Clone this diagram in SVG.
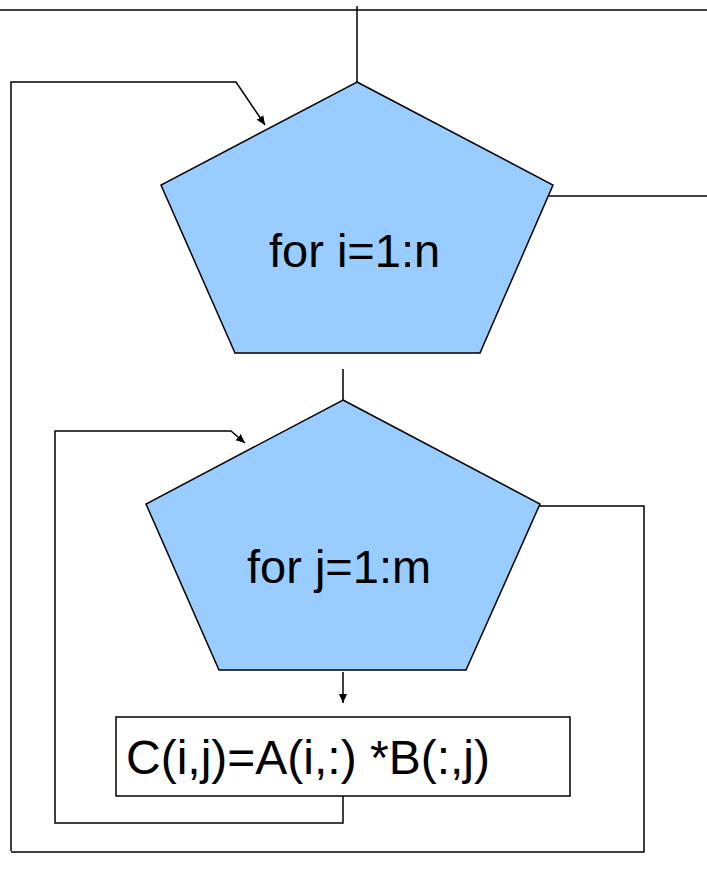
<svg xmlns="http://www.w3.org/2000/svg" width="707" height="873" viewBox="0 0 707 873">
<style>
.ln{fill:none;stroke:#000;stroke-width:1.5}
.pent{fill:#99CCFF;stroke:#000;stroke-width:1.5;stroke-linejoin:miter}
.box{fill:#fff;stroke:#000;stroke-width:1.5}
.t{font-family:"Liberation Sans",Arial,sans-serif;font-size:47px;fill:#000}
.tb{font-size:48px}
</style>
<defs>
<marker id="ah" markerWidth="10" markerHeight="10" refX="9" refY="5" orient="auto" markerUnits="userSpaceOnUse">
<path d="M0,1 L9,5 L0,9 Z" fill="#000"/>
</marker>
</defs>
<g id="connectors">
<line class="ln" x1="0" y1="10" x2="707" y2="10"/>
<line class="ln" x1="357" y1="6" x2="357" y2="82"/>
<polyline class="ln" points="548,196 707,196"/>
<polyline class="ln" points="11,851 11,82 236,82 265,125" marker-end="url(#ah)"/>
<polyline class="ln" points="538,506 644,506 644,852 11,852"/>
<line class="ln" x1="343" y1="369" x2="343" y2="400"/>
<line class="ln" x1="343" y1="672" x2="343" y2="703" marker-end="url(#ah)"/>
<polyline class="ln" points="343,796 343,823 55,823 55,431 231,431 245,443" marker-end="url(#ah)"/>
</g>
<g id="for_i">
<polygon class="pent" points="357,82 553,185 480,353 235,353 161,185"/>
<text class="t" x="269" y="267">for i=1:n</text>
</g>
<g id="for_j">
<polygon class="pent" points="343,400 540,504 466,670 219,670 146,504"/>
<text class="t" x="247" y="583">for j=1:m</text>
</g>
<g id="body">
<rect class="box" x="116" y="717" width="454" height="79"/>
<text class="t tb" x="126" y="774">C(i,j)=A(i,:) *B(:,j)</text>
</g>
</svg>
